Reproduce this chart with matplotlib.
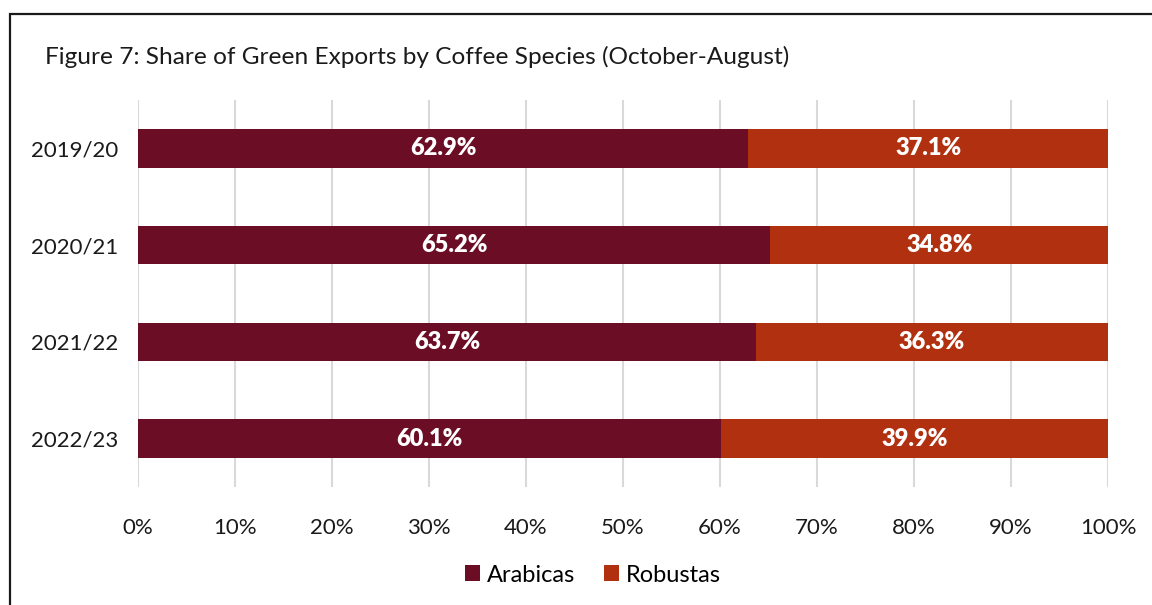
import matplotlib.pyplot as plt
from matplotlib.patches import Rectangle

plt.rcParams['font.family'] = ['Lato', 'DejaVu Sans']

seasons = ['2019/20', '2020/21', '2021/22', '2022/23']
arabicas = [62.9, 65.2, 63.7, 60.1]
robustas = [37.1, 34.8, 36.3, 39.9]

col_arabica = '#6B0D25'
col_robusta = '#B0300F'

fig = plt.figure(figsize=(11.52, 6.05), dpi=100)
ax = fig.add_axes([138 / 1152, 1 - 487 / 605, 970 / 1152, 387 / 605])

y = list(range(len(seasons)))
b1 = ax.barh(y, arabicas, height=0.4, color=col_arabica, label='Arabicas', zorder=3)
b2 = ax.barh(y, robustas, left=arabicas, height=0.4, color=col_robusta, label='Robustas', zorder=3)

for bars, vals in ((b1, arabicas), (b2, robustas)):
    ax.bar_label(bars, labels=[f'{v:.1f}%' for v in vals], label_type='center',
                 color='white', fontsize=17, fontweight='heavy')

ax.set_xlim(0, 100)
ax.set_ylim(len(seasons) - 0.5, -0.5)
ax.set_yticks(y)
ax.set_yticklabels(seasons, fontsize=16)
ax.set_xticks(range(0, 101, 10))
ax.set_xticklabels([f'{t}%' for t in range(0, 101, 10)], fontsize=16)
ax.tick_params(length=0, pad=14, colors='#1a1a1a')
ax.tick_params(axis='x', pad=22)
ax.grid(axis='x', color='#D9D9D9', linewidth=1.5, zorder=0)
for s in ax.spines.values():
    s.set_visible(False)

fig.text(45 / 1152, 1 - 57 / 605, 'Figure 7: Share of Green Exports by Coffee Species (October-August)',
         fontsize=17.6, va='center', ha='left', color='#1a1a1a')

fig.legend(handles=[b1, b2], loc='center', bbox_to_anchor=(593 / 1152, 1 - 575 / 605),
           ncol=2, frameon=False, fontsize=17, handlelength=0.65, handleheight=0.65,
           handletextpad=0.3, columnspacing=1.2)

fig.add_artist(Rectangle((10 / 1152, -0.1), 1.2, 1.1 - 14 / 605, transform=fig.transFigure,
                         fill=False, edgecolor='#1a1a1a', linewidth=1.6, clip_on=False))

fig.savefig('out.png', dpi=100)
